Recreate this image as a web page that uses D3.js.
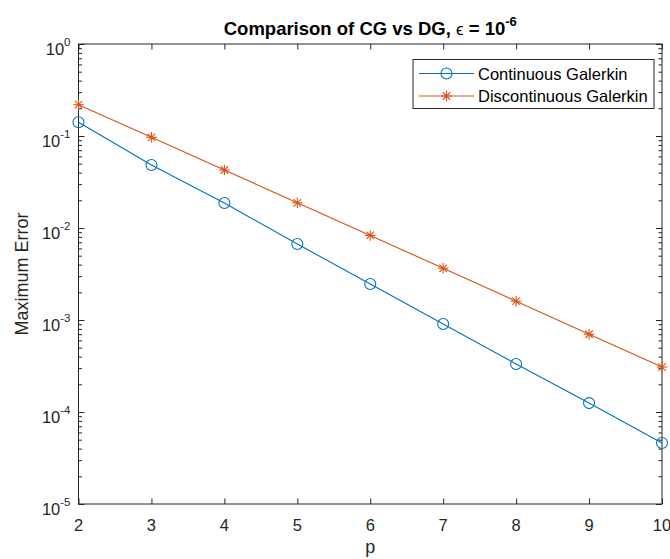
<!DOCTYPE html>
<html>
<head>
<meta charset="utf-8">
<script src="https://cdn.jsdelivr.net/npm/d3@7"></script>
<style>
  html, body { margin: 0; padding: 0; background: #fff; }
  svg { display: block; font-family: "Liberation Sans", Arial, Helvetica, sans-serif; }
</style>
</head>
<body>
<svg id="chart" width="670" height="559"></svg>
<script>
// Polynomial degree p
const degrees = [2, 3, 4, 5, 6, 7, 8, 9, 10];
// Maximum error for each method
const cgError = [0.141, 0.0484, 0.0187, 0.0067, 0.00246, 0.000905, 0.000333, 0.000125, 0.000046];
const dgError = [0.219, 0.0968, 0.0427, 0.0188, 0.0083, 0.00365, 0.0016, 0.00070, 0.000308];
// Axis ticks
const xTicks = [2, 3, 4, 5, 6, 7, 8, 9, 10];
const yExponents = [0, -1, -2, -3, -4, -5];
const seriesNames = ["Continuous Galerkin", "Discontinuous Galerkin"];
const seriesColors = ["#0072BD", "#D95319"];

const svg = d3.select("#chart");
const plotLeft = 78.5, plotRight = 662, plotTop = 44, plotBottom = 504;
const axisColor = "#262626";
const tickFont = 16.5;

const x = d3.scaleLinear().domain([2, 10]).range([plotLeft, plotRight]);
const y = d3.scaleLog().domain([1e-5, 1]).range([plotBottom, plotTop]);

const majorY = yExponents.map(e => Math.pow(10, e));
const minorY = [];
for (let e = -5; e < 0; e++) {
  for (let m = 2; m <= 9; m++) minorY.push(m * Math.pow(10, e));
}

function styleAxis(g) {
  g.select(".domain").remove();
  g.selectAll(".tick line").attr("stroke", axisColor).attr("stroke-width", 1);
  g.selectAll(".tick text").remove();
}

// Inward ticks on all four sides
svg.append("g").attr("transform", `translate(0,${plotBottom})`)
  .call(d3.axisBottom(x).tickValues(xTicks).tickSize(-5.5)).call(styleAxis);
svg.append("g").attr("transform", `translate(0,${plotTop})`)
  .call(d3.axisTop(x).tickValues(xTicks).tickSize(-5.5)).call(styleAxis);
svg.append("g").attr("transform", `translate(${plotLeft},0)`)
  .call(d3.axisLeft(y).tickValues(majorY).tickSize(-6)).call(styleAxis);
svg.append("g").attr("transform", `translate(${plotLeft},0)`)
  .call(d3.axisLeft(y).tickValues(minorY).tickSize(-3.5)).call(styleAxis);
svg.append("g").attr("transform", `translate(${plotRight},0)`)
  .call(d3.axisRight(y).tickValues(majorY).tickSize(-6)).call(styleAxis);
svg.append("g").attr("transform", `translate(${plotRight},0)`)
  .call(d3.axisRight(y).tickValues(minorY).tickSize(-3.5)).call(styleAxis);

// Axes box
svg.append("rect")
  .attr("x", plotLeft).attr("y", plotTop)
  .attr("width", plotRight - plotLeft).attr("height", plotBottom - plotTop)
  .attr("fill", "none").attr("stroke", axisColor).attr("stroke-width", 1);

// X tick labels
svg.append("g").selectAll("text").data(xTicks).join("text")
  .attr("x", d => x(d)).attr("y", plotBottom + 27)
  .attr("text-anchor", "middle")
  .attr("font-size", tickFont).attr("fill", axisColor)
  .text(d => d);

// Y tick labels as powers of ten
const yLab = svg.append("g").selectAll("text").data(yExponents).join("text")
  .attr("x", plotLeft - 8).attr("y", e => y(Math.pow(10, e)) + 11)
  .attr("text-anchor", "end")
  .attr("font-size", tickFont).attr("fill", axisColor);
yLab.append("tspan").text("10");
yLab.append("tspan").attr("dy", -9).attr("font-size", 11.5).text(e => e);

// Axis titles
svg.append("text")
  .attr("x", (plotLeft + plotRight) / 2).attr("y", plotBottom + 49)
  .attr("text-anchor", "middle").attr("font-size", 18).attr("fill", axisColor)
  .text("p");
svg.append("text")
  .attr("transform", `translate(28,${(plotTop + plotBottom) / 2}) rotate(-90)`)
  .attr("text-anchor", "middle").attr("font-size", 18).attr("fill", axisColor)
  .text("Maximum Error");

// Title
const title = svg.append("text")
  .attr("x", (plotLeft + plotRight) / 2).attr("y", 35)
  .attr("text-anchor", "middle").attr("font-size", 18.5).attr("font-weight", "bold")
  .attr("fill", "#000");
title.append("tspan").text("Comparison of CG vs DG, ");
title.append("tspan").attr("font-weight", "normal").attr("font-size", 17).text("\u03F5");
title.append("tspan").text(" = 10");
title.append("tspan").attr("dy", -9).attr("font-size", 13).text("-6");

// Series
const series = [cgError, dgError];
const line = d3.line().x((d, i) => x(degrees[i])).y(d => y(d));

function drawCircle(g, cx, cy, color) {
  g.append("circle").attr("cx", cx).attr("cy", cy).attr("r", 5.5)
    .attr("fill", "none").attr("stroke", color).attr("stroke-width", 1.1);
}
function drawStar(g, cx, cy, color) {
  const r = 5.2, d = r * 0.72;
  const segs = [[-r, 0, r, 0], [0, -r, 0, r], [-d, -d, d, d], [-d, d, d, -d]];
  segs.forEach(s => g.append("line")
    .attr("x1", cx + s[0]).attr("y1", cy + s[1])
    .attr("x2", cx + s[2]).attr("y2", cy + s[3])
    .attr("stroke", color).attr("stroke-width", 1.1));
}
const markers = [drawCircle, drawStar];

series.forEach((vals, k) => {
  const g = svg.append("g");
  g.append("path").datum(vals).attr("d", line)
    .attr("fill", "none").attr("stroke", seriesColors[k]).attr("stroke-width", 1.1);
  vals.forEach((v, i) => markers[k](g, x(degrees[i]), y(v), seriesColors[k]));
});

// Legend
const lg = svg.append("g");
lg.append("rect").attr("x", 413).attr("y", 59.5).attr("width", 241).attr("height", 49)
  .attr("fill", "#fff").attr("stroke", axisColor).attr("stroke-width", 1);
seriesNames.forEach((name, k) => {
  const cy = 73.5 + k * 22.5;
  lg.append("line").attr("x1", 419).attr("x2", 474).attr("y1", cy).attr("y2", cy)
    .attr("stroke", seriesColors[k]).attr("stroke-width", 1.1);
  markers[k](lg, 446.5, cy, seriesColors[k]);
  lg.append("text").attr("x", 478).attr("y", cy + 6)
    .attr("font-size", 16.5).attr("fill", "#000").text(name);
});
</script>
</body>
</html>
